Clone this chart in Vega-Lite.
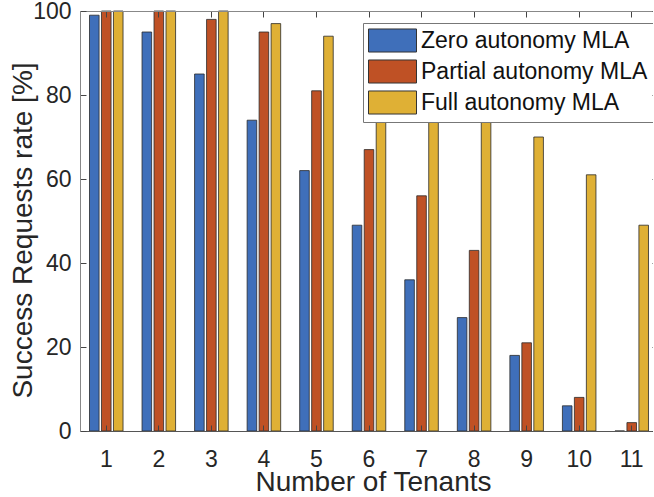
{
  "$schema": "https://vega.github.io/schema/vega-lite/v6.json",
  "width": 578,
  "height": 420,
  "autosize": {"type": "none"},
  "padding": {"left": 80, "top": 11, "right": -5, "bottom": 66},
  "background": "white",
  "config": {
    "view": {"stroke": null},
    "font": "Liberation Sans"
  },
  "data": {
    "values": [
      {"N": 1, "series": "Zero autonomy MLA", "value": 99},
      {"N": 1, "series": "Partial autonomy MLA", "value": 100},
      {"N": 1, "series": "Full autonomy MLA", "value": 100},
      {"N": 2, "series": "Zero autonomy MLA", "value": 95},
      {"N": 2, "series": "Partial autonomy MLA", "value": 100},
      {"N": 2, "series": "Full autonomy MLA", "value": 100},
      {"N": 3, "series": "Zero autonomy MLA", "value": 85},
      {"N": 3, "series": "Partial autonomy MLA", "value": 98},
      {"N": 3, "series": "Full autonomy MLA", "value": 100},
      {"N": 4, "series": "Zero autonomy MLA", "value": 74},
      {"N": 4, "series": "Partial autonomy MLA", "value": 95},
      {"N": 4, "series": "Full autonomy MLA", "value": 97},
      {"N": 5, "series": "Zero autonomy MLA", "value": 62},
      {"N": 5, "series": "Partial autonomy MLA", "value": 81},
      {"N": 5, "series": "Full autonomy MLA", "value": 94},
      {"N": 6, "series": "Zero autonomy MLA", "value": 49},
      {"N": 6, "series": "Partial autonomy MLA", "value": 67},
      {"N": 6, "series": "Full autonomy MLA", "value": 89},
      {"N": 7, "series": "Zero autonomy MLA", "value": 36},
      {"N": 7, "series": "Partial autonomy MLA", "value": 56},
      {"N": 7, "series": "Full autonomy MLA", "value": 84},
      {"N": 8, "series": "Zero autonomy MLA", "value": 27},
      {"N": 8, "series": "Partial autonomy MLA", "value": 43},
      {"N": 8, "series": "Full autonomy MLA", "value": 78},
      {"N": 9, "series": "Zero autonomy MLA", "value": 18},
      {"N": 9, "series": "Partial autonomy MLA", "value": 21},
      {"N": 9, "series": "Full autonomy MLA", "value": 70},
      {"N": 10, "series": "Zero autonomy MLA", "value": 6},
      {"N": 10, "series": "Partial autonomy MLA", "value": 8},
      {"N": 10, "series": "Full autonomy MLA", "value": 61},
      {"N": 11, "series": "Zero autonomy MLA", "value": 0},
      {"N": 11, "series": "Partial autonomy MLA", "value": 2},
      {"N": 11, "series": "Full autonomy MLA", "value": 49}
    ]
  },
  "resolve": {"axis": {"x": "independent", "y": "independent"}},
  "layer": [
    {
      "mark": {"type": "bar", "stroke": "#2a2a2a", "strokeWidth": 0.8},
      "encoding": {
        "x": {
          "field": "N", "type": "ordinal",
          "scale": {"paddingInner": 0.316, "paddingOuter": 0.158},
          "axis": {
            "title": "Number of Tenants", "titleFontSize": 28, "titleFontWeight": "normal", "titleColor": "#262626",
            "titleX": 293, "titleY": 59, "titleBaseline": "alphabetic", "titleAlign": "center",
            "labelFontSize": 23, "labelColor": "#262626", "labelAngle": 0, "labelPadding": 23,
            "tickSize": -6, "tickColor": "#444", "domainColor": "#555", "zindex": 1
          }
        },
        "xOffset": {
          "field": "series", "type": "nominal",
          "sort": ["Zero autonomy MLA", "Partial autonomy MLA", "Full autonomy MLA"],
          "scale": {"paddingInner": 0.2, "paddingOuter": 0.1}
        },
        "y": {
          "field": "value", "type": "quantitative", "stack": null,
          "scale": {"domain": [0, 100], "nice": false},
          "axis": {
            "title": "Success Requests rate [%]", "titleFontSize": 28, "titleFontWeight": "normal", "titleColor": "#262626",
            "titleX": -49, "titleY": 219, "titleBaseline": "alphabetic", "titleAlign": "center", "titleAngle": 270,
            "labelFontSize": 23, "labelColor": "#262626", "labelPadding": 15,
            "values": [0, 20, 40, 60, 80, 100], "grid": false,
            "tickSize": -6, "tickColor": "#444", "domainColor": "#888", "zindex": 1
          }
        },
        "color": {
          "field": "series", "type": "nominal",
          "sort": ["Zero autonomy MLA", "Partial autonomy MLA", "Full autonomy MLA"],
          "scale": {"range": ["#3f6fba", "#bf5125", "#dfb035"]},
          "legend": {
            "title": null, "orient": "none", "legendX": 283, "legendY": 12,
            "padding": 5, "fillColor": "white", "strokeColor": "#777",
            "labelFontSize": 23, "labelColor": "#111", "labelOffset": 28, "labelLimit": 400,
            "symbolType": "M-1,-0.96H3V0.96H-1Z", "symbolSize": 576,
            "symbolStrokeColor": "#333", "symbolStrokeWidth": 1, "symbolOpacity": 1,
            "rowPadding": 2
          }
        }
      }
    },
    {
      "mark": {"type": "bar", "opacity": 0},
      "encoding": {
        "x": {
          "field": "N", "type": "ordinal",
          "axis": {"orient": "top", "labels": false, "title": null, "tickSize": -6, "tickColor": "#444", "domainColor": "#888", "zindex": 1}
        },
        "xOffset": {"field": "series", "type": "nominal", "sort": ["Zero autonomy MLA", "Partial autonomy MLA", "Full autonomy MLA"]},
        "y": {
          "field": "value", "type": "quantitative", "stack": null,
          "axis": {"orient": "right", "labels": false, "title": null, "values": [0, 20, 40, 60, 80, 100], "grid": false, "tickSize": -6, "tickColor": "#444", "domainColor": "#888", "zindex": 1}
        }
      }
    }
  ]
}
